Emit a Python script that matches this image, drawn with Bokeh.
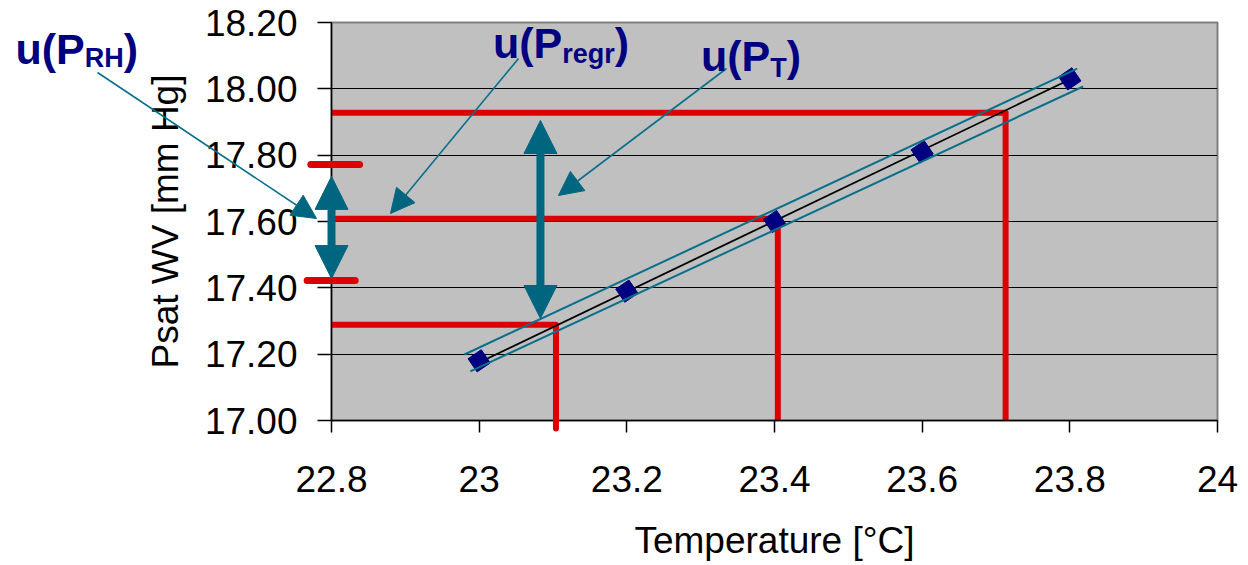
from bokeh.plotting import figure
from bokeh.models import Range1d, FixedTicker, Arrow, NormalHead, Label, GridBox
from bokeh.embed import file_html
from bokeh.resources import INLINE

# ---------------- data ----------------
temp = [23.0, 23.2, 23.4, 23.6, 23.8]
psat = [17.18, 17.39, 17.60, 17.81, 18.03]

reg_x = [23.0, 23.8]
reg_y = [17.175, 18.028]
band_hi_x = [22.98, 23.81]
band_hi_y = [17.199, 18.061]
band_lo_x = [22.988, 23.818]
band_lo_y = [17.148, 18.007]

x_ticks = [22.8, 23.0, 23.2, 23.4, 23.6, 23.8, 24.0]
x_tick_labels = ["22.8", "23", "23.2", "23.4", "23.6", "23.8", "24"]
y_ticks = [17.0, 17.2, 17.4, 17.6, 17.8, 18.0, 18.2]
y_tick_labels = ["17.00", "17.20", "17.40", "17.60", "17.80", "18.00", "18.20"]
grid_ticks = [17.2, 17.4, 17.6, 17.8, 18.0]

# read-off lines (temperature -> pressure)
read_t = [23.104, 23.4045, 23.713]
read_p = [17.289, 17.608, 17.928]
read_bottom = [16.976, 17.0, 17.0]

# u(P_RH) limits (short red bars)
rh_lim_y = [17.772, 17.422]
rh_lim_x0 = [22.772, 22.767]
rh_lim_x1 = [22.838, 22.832]

# double arrows: x, y_low, y_high
dbl_x = [22.8, 23.083]
dbl_lo = [17.428, 17.3075]
dbl_hi = [17.736, 17.9045]

# annotation labels
ann_sub = ["RH", "regr", "T"]
ann_x = [22.372, 23.0187, 23.3005]
ann_y = [18.1216, 18.1367, 18.1005]
ann_sub_y = [18.0915, 18.1065, 18.0643]
ann_arrow_x0 = [22.4831, 23.0533, 23.335]
ann_arrow_y0 = [18.0492, 18.0915, 18.0613]
ann_arrow_x1 = [22.7797, 22.8799, 23.1074]
ann_arrow_y1 = [17.609, 17.6241, 17.6784]

# ---------------- styles / layout ----------------
RED = "#dd0000"
TEAL = "#006680"
TEAL_LINE = "#0a6f8a"
NAVY = "#000080"
FONT = "Liberation Sans"
W, H = 1248, 565
FL, FR, FT, FB = 331, 1217, 22, 420   # frame edges in pixels
X0, X1, Y0, Y1 = 22.8, 24.0, 17.0, 18.2

p = figure(width=W, height=H, x_range=Range1d(X0, X1), y_range=Range1d(Y0, Y1),
           output_backend="svg", toolbar_location=None, title=None,
           min_border_left=FL, min_border_right=W - FR, min_border_top=FT, min_border_bottom=H - FB)
p.frame_align = False
p.background_fill_color = "#c0c0c0"
p.border_fill_color = "white"
p.outline_line_color = "#808080"
p.outline_line_width = 2

p.xgrid.visible = False
p.ygrid.ticker = FixedTicker(ticks=grid_ticks)
p.ygrid.grid_line_color = "black"
p.ygrid.grid_line_width = 1.2

for ax in (p.xaxis[0], p.yaxis[0]):
    ax.axis_line_color = "black"
    ax.axis_line_width = 1.5
    ax.major_tick_line_color = "black"
    ax.major_tick_line_width = 1.5
    ax.major_tick_in = 0
    ax.minor_tick_line_color = None
    ax.major_label_text_font = FONT
    ax.major_label_text_font_size = "37px"
    ax.major_label_text_color = "black"
    ax.axis_label_text_font = FONT
    ax.axis_label_text_font_size = "37px"
    ax.axis_label_text_font_style = "normal"
    ax.axis_label_text_color = "black"

p.xaxis.ticker = FixedTicker(ticks=x_ticks)
p.xaxis.major_label_overrides = dict(zip(x_ticks, x_tick_labels))
p.xaxis.major_tick_out = 12
p.xaxis.major_label_standoff = 33
p.xaxis.axis_label = "Temperature [°C]"
p.xaxis.axis_label_standoff = 25

p.yaxis.ticker = FixedTicker(ticks=y_ticks)
p.yaxis.major_label_overrides = dict(zip(y_ticks, y_tick_labels))
p.yaxis.major_tick_out = 14
p.yaxis.major_label_standoff = 20
p.yaxis.axis_label = "Psat WV [mm Hg]"
p.yaxis.axis_label_standoff = 16

# red read-off lines
xs = [[X0, t, t] for t in read_t]
ys = [[pp, pp, Y0] for pp in read_p]
p.multi_line(xs, ys, line_color=RED, line_width=6, line_join="round", line_cap="round")

# regression + bands + points
p.line(reg_x, reg_y, line_color="black", line_width=1.8)
p.scatter(temp, psat, marker="square", size=16, angle=0.6, fill_color=NAVY, line_color=NAVY)
p.line(band_hi_x, band_hi_y, line_color=TEAL_LINE, line_width=2)
p.line(band_lo_x, band_lo_y, line_color=TEAL_LINE, line_width=2)

# ---------- transparent overlay covering the whole canvas (for marks outside the frame) ----------
sx = (X1 - X0) / (FR - FL)
sy = (Y1 - Y0) / (FB - FT)
ov = figure(width=W, height=H,
            x_range=Range1d(X0 - FL * sx, X0 + (W - FL) * sx),
            y_range=Range1d(Y0 - (H - FB) * sy, Y0 + FB * sy),
            output_backend="svg", toolbar_location=None, title=None,
            x_axis_location=None, y_axis_location=None,
            min_border=0, min_border_left=0, min_border_right=0, min_border_top=0, min_border_bottom=0)
ov.frame_align = False
ov.background_fill_color = None
ov.border_fill_color = None
ov.outline_line_color = None
ov.grid.visible = False

# red extension below the axis
ext_t = [t for t, b in zip(read_t, read_bottom) if b < Y0]
ext_b = [b for b in read_bottom if b < Y0]
ov.segment(x0=ext_t, y0=[Y0] * len(ext_t), x1=ext_t, y1=ext_b,
           line_color=RED, line_width=6, line_cap="round")
# short red bars for u(P_RH)
ov.segment(x0=rh_lim_x0, y0=rh_lim_y, x1=rh_lim_x1, y1=rh_lim_y,
           line_color=RED, line_width=7, line_cap="round")

# double arrows
for x, lo, hi in zip(dbl_x, dbl_lo, dbl_hi):
    ov.add_layout(Arrow(start=NormalHead(size=33, fill_color=TEAL, line_color=TEAL, line_width=1),
                        end=NormalHead(size=33, fill_color=TEAL, line_color=TEAL, line_width=1),
                        x_start=x, y_start=lo, x_end=x, y_end=hi,
                        line_color=TEAL, line_width=8))

# annotation arrows
for x0, y0, x1, y1 in zip(ann_arrow_x0, ann_arrow_y0, ann_arrow_x1, ann_arrow_y1):
    ov.add_layout(Arrow(end=NormalHead(size=24, fill_color=TEAL, line_color=TEAL, line_width=1),
                        x_start=x0, y_start=y0, x_end=x1, y_end=y1,
                        line_color=TEAL_LINE, line_width=1.6))

# annotation labels: u(P_sub)
WID = {"u": 0.611, "(": 0.333, "P": 0.667, ")": 0.333, "R": 0.722, "H": 0.722,
       "r": 0.389, "e": 0.556, "g": 0.611, "T": 0.611}
MAIN_PX = 43
SUB_PX = 27
for sub, x, ym, ys_ in zip(ann_sub, ann_x, ann_y, ann_sub_y):
    w_main = sum(WID[c] for c in "u(P") * MAIN_PX
    w_sub = sum(WID[c] for c in sub) * SUB_PX
    common = dict(text_font=FONT, text_font_style="bold", text_color=NAVY,
                  text_baseline="alphabetic", text_align="left")
    ov.add_layout(Label(x=x, y=ym, text="u(P", text_font_size=f"{MAIN_PX}px", **common))
    ov.add_layout(Label(x=x, y=ys_, x_offset=w_main, text=sub, text_font_size=f"{SUB_PX}px", **common))
    ov.add_layout(Label(x=x, y=ym, x_offset=w_main + w_sub, text=")", text_font_size=f"{MAIN_PX}px", **common))

root = GridBox(children=[(p, 0, 0), (ov, 0, 0)], spacing=0)
open("out.html", "w").write(file_html(root, INLINE))
